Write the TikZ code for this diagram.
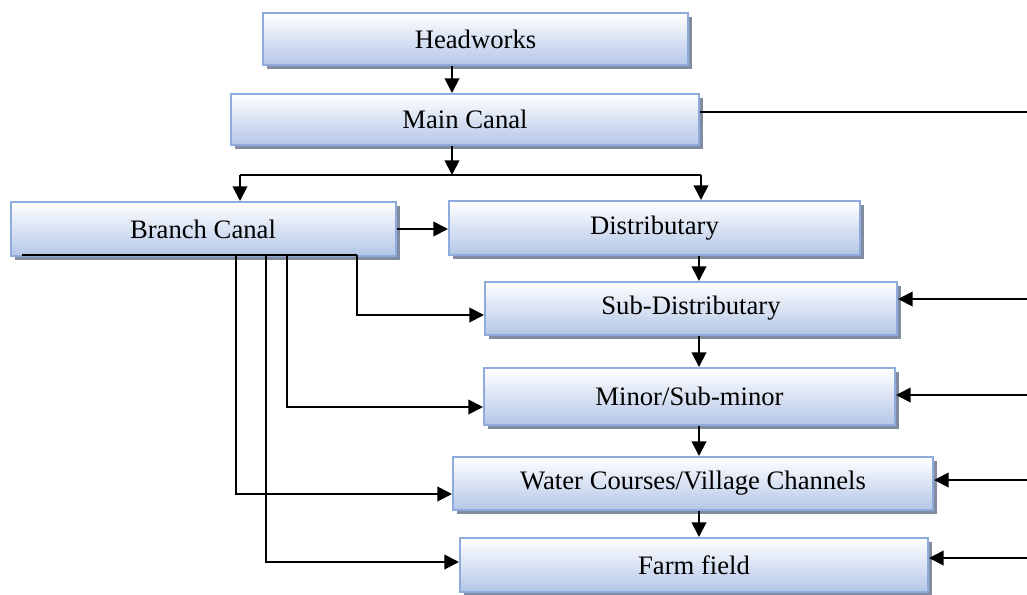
\documentclass[tikz,border=0pt]{standalone}
\usepackage{fontspec}
\setmainfont{Liberation Serif}
\usetikzlibrary{arrows.meta,shadows}
\definecolor{boxblue}{RGB}{180,198,231}
\definecolor{boxedge}{RGB}{143,170,220}
\definecolor{shadowgray}{RGB}{130,140,160}
\begin{document}
\begin{tikzpicture}[x=0.75pt,y=-0.75pt,
 box/.style={draw=boxedge, line width=1.5pt, top color=white, bottom color=boxblue,
   drop shadow={shadow xshift=3pt,shadow yshift=-3pt,fill=shadowgray,opacity=1},
   font=\fontsize{20}{24}\selectfont, inner sep=0pt},
 conn/.style={line width=1.4pt, -{Triangle[length=11pt,width=11pt]}},
 wire/.style={line width=1.4pt}]
\useasboundingbox (0,0) rectangle (1027,594);

\node[box, minimum width=318.75pt, minimum height=39pt] (head) at (475.5,39) {Headworks};
\node[box, minimum width=351pt, minimum height=38.25pt] (main) at (465,119.5) {Main Canal};
\node[box, minimum width=288.75pt, minimum height=40.5pt] (branch) at (203,229) {Branch Canal};
\node[box, minimum width=308.25pt, minimum height=40.5pt] (dist) at (654.5,228) {Distributary};
\node[box, minimum width=309pt, minimum height=39.75pt] (sub) at (691,308.5) {Sub-Distributary};
\node[box, minimum width=308.25pt, minimum height=42.75pt] (minor) at (689.5,396.5) {Minor/Sub-minor};
\node[box, minimum width=360pt, minimum height=39.75pt] (water) at (693,483.5) {Water Courses/Village Channels};
\node[box, minimum width=351pt, minimum height=40.5pt] (farm) at (694,565) {Farm field};

% top chain
\coordinate (hx) at (452,0);
\draw[conn] (head.south -| hx) -- (main.north -| hx);
\coordinate (bus) at (452,175);
\coordinate (busL) at (240,175);
\coordinate (busR) at (701,175);
\draw[conn] (main.south -| hx) -- (bus);
\draw[wire] (busL) -- (busR);
\draw[conn] (busL) -- (branch.north -| busL);
\draw[conn] (busR) -- (dist.north -| busR);
\coordinate (e1) at (1027,112);
\draw[wire] (main.east |- e1) -- (e1);

% branch to distributary
\draw[conn] (branch.east) -- (dist.west |- branch.east);

% vertical chain
\coordinate (vx) at (699,0);
\draw[conn] (dist.south -| vx) -- (sub.north -| vx);
\draw[conn] (sub.south -| vx) -- (minor.north -| vx);
\draw[conn] (minor.south -| vx) -- (water.north -| vx);
\draw[conn] (water.south -| vx) -- (farm.north -| vx);

% right side feeds
\coordinate (r1) at (1027,299);
\coordinate (r2) at (1027,395);
\coordinate (r3) at (1027,480);
\coordinate (r4) at (1027,558);
\draw[conn] (r1) -- (sub.east |- r1);
\draw[conn] (r2) -- (minor.east |- r2);
\draw[conn] (r3) -- (water.east |- r3);
\draw[conn] (r4) -- (farm.east |- r4);

% branch canal offtakes
\coordinate (bl) at (22,255);
\coordinate (b1) at (357,255);
\coordinate (b2) at (287,255);
\coordinate (b3) at (236,255);
\coordinate (b4) at (266,255);
\coordinate (y1) at (0,315);
\coordinate (y2) at (0,407);
\coordinate (y3) at (0,494);
\coordinate (y4) at (0,562);
\draw[wire] (bl) -- (b1);
\draw[conn] (b1) |- (sub.west |- y1);
\draw[conn] (b2) |- (minor.west |- y2);
\draw[conn] (b3) |- (water.west |- y3);
\draw[conn] (b4) |- (farm.west |- y4);
\end{tikzpicture}
\end{document}
